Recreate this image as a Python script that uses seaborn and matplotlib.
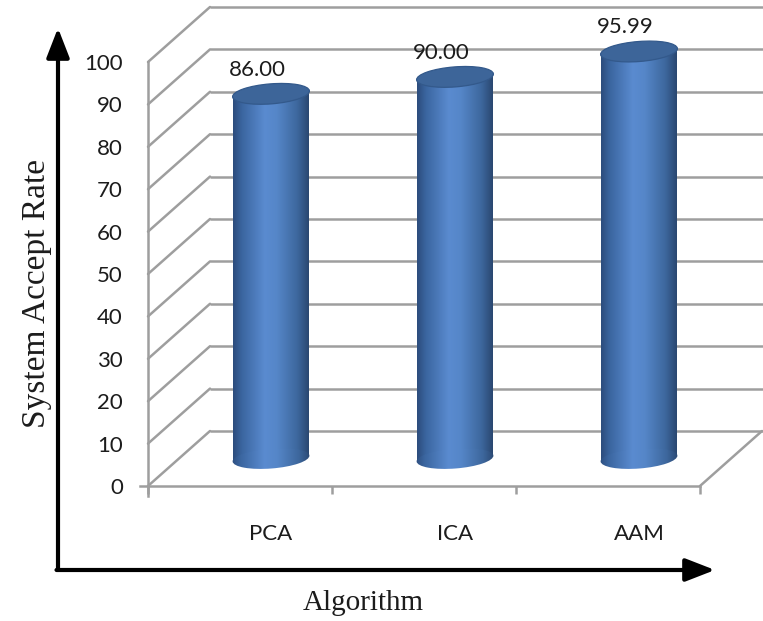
import numpy as np
import matplotlib
matplotlib.use("Agg")
import matplotlib.pyplot as plt
import matplotlib.transforms as mtransforms
from matplotlib.patches import Ellipse, Polygon
from matplotlib.colors import LinearSegmentedColormap
import seaborn as sns

# ---- data ----
algorithms = ["PCA", "ICA", "AAM"]
accept_rates = [86.00, 90.00, 95.99]
y_ticks = list(range(0, 101, 10))
x_title = "Algorithm"
y_title = "System Accept Rate"

# ---- layout (pixels) ----
W, H, DPI = 763, 621, 100
FRONT_LEFT_PX = 148          # x = -0.5 on the front plane
PX_PER_CAT = 184.0
FRONT_ZERO_PX = 486          # y = 0 on the front plane
PX_PER_UNIT = 4.24
DEPTH_X = 62 / PX_PER_CAT    # depth offset of the back wall, data units
DEPTH_Y = 55 / PX_PER_UNIT
HALF_DX, HALF_DY = DEPTH_X / 2, DEPTH_Y / 2
BAR_W = 76 / PX_PER_CAT
CAP_W_PX, CAP_H_PX, CAP_ANGLE = 77, 20, 4.5   # cylinder end ellipses
CAP_TILT = (CAP_W_PX / 2) * np.sin(np.radians(CAP_ANGLE)) / PX_PER_UNIT

GRID = "#9e9e9e"
TEXT = "#1c1c1c"

sns.set_theme(style="white")
plt.rcParams["font.family"] = ["Lato", "DejaVu Sans"]

fig = plt.figure(figsize=(W / DPI, H / DPI), dpi=DPI)
ax_left, ax_right, ax_top, ax_bottom = 120, W, 0, 500
ax = fig.add_axes([ax_left / W, (H - ax_bottom) / H,
                   (ax_right - ax_left) / W, (ax_bottom - ax_top) / H])

xlim = (-0.5 - (FRONT_LEFT_PX - ax_left) / PX_PER_CAT,
        -0.5 + (ax_right - FRONT_LEFT_PX) / PX_PER_CAT)
ylim = (-(ax_bottom - FRONT_ZERO_PX) / PX_PER_UNIT,
        (FRONT_ZERO_PX - ax_top) / PX_PER_UNIT)

# bars drawn by seaborn, then pushed back to mid-depth
sns.barplot(x=algorithms, y=accept_rates, color="#4f81bd", width=BAR_W,
            errorbar=None, saturation=1, ax=ax, zorder=2)

# walls: back-wall gridlines and left-wall diagonals
n_cat = len(algorithms)
x_front_l, x_front_r = -0.5, n_cat - 0.5
for t in y_ticks:
    ax.plot([x_front_l + DEPTH_X, xlim[1] + 0.2], [t + DEPTH_Y, t + DEPTH_Y],
            color=GRID, lw=1.8, zorder=0, clip_on=False, solid_capstyle="butt")
    ax.plot([x_front_l, x_front_l + DEPTH_X], [t, t + DEPTH_Y],
            color=GRID, lw=1.8, zorder=0, clip_on=False)
# floor right edge
ax.plot([x_front_r, x_front_r + DEPTH_X], [0, DEPTH_Y], color=GRID, lw=1.8,
        zorder=0, clip_on=False)

# cylinder shading
cyl = LinearSegmentedColormap.from_list(
    "cyl", [(0.0, "#2c4c7c"), (0.12, "#3b66a0"), (0.42, "#5a8bd0"),
            (0.58, "#5586c8"), (0.85, "#3d679d"), (1.0, "#2a4770")])
grad = np.linspace(0, 1, 256)[None, :]
shift = mtransforms.Affine2D().translate(HALF_DX, HALF_DY) + ax.transData


def cap(cx, cy, **kw):
    return Ellipse((0, 0), CAP_W_PX, CAP_H_PX, angle=CAP_ANGLE,
                   transform=mtransforms.ScaledTranslation(cx, cy, ax.transData),
                   **kw)


for p, val in zip(ax.patches, accept_rates):
    x, w, h = p.get_x(), p.get_width(), p.get_height()
    p.set_transform(shift)
    p.set_facecolor("none")
    p.set_edgecolor("none")
    xl, xr = x + HALF_DX, x + w + HALF_DX
    yb, yt = HALF_DY, h + HALF_DY
    cx = (xl + xr) / 2
    # slanted body outline following the tilted end caps
    outline = Polygon([(xl, yb - CAP_TILT), (xr, yb + CAP_TILT),
                       (xr, yt + CAP_TILT), (xl, yt - CAP_TILT)],
                      closed=True, facecolor="none", edgecolor="none")
    ax.add_patch(outline)
    body = ax.imshow(grad, cmap=cyl, aspect="auto", interpolation="bicubic",
                     extent=(xl, xr, yb - 4, yt + 4), zorder=2)
    body.set_clip_path(outline)
    base = cap(cx, yb, facecolor="none", edgecolor="none")
    ax.add_patch(base)
    bottom = ax.imshow(grad, cmap=cyl, aspect="auto", interpolation="bicubic",
                       extent=(xl - 0.01, xr + 0.01, yb - 4, yb + 4), zorder=2)
    bottom.set_clip_path(base)
    ax.add_patch(cap(cx, yt, facecolor="#3d6599", edgecolor="#33598b",
                     lw=0.9, zorder=4))
    ax.text(cx - 0.075, yt + 5.7, f"{val:.2f}", ha="center",
            va="center", fontsize=16, color=TEXT, zorder=5)

ax.set_xlim(*xlim)
ax.set_ylim(*ylim)

# front axes
for side in ("top", "right"):
    ax.spines[side].set_visible(False)
ax.spines["left"].set_position(("data", x_front_l))
ax.spines["left"].set_bounds(-2.4, 100)
ax.spines["bottom"].set_position(("data", 0))
ax.spines["bottom"].set_bounds(x_front_l - 0.045, x_front_r)
for side in ("left", "bottom"):
    ax.spines[side].set_color(GRID)
    ax.spines[side].set_linewidth(1.8)

ax.set_yticks(y_ticks)
ax.set_yticklabels([str(t) for t in y_ticks])
ax.tick_params(axis="y", direction="out", length=6, width=1.8, color=GRID,
               labelsize=16, labelcolor=TEXT, pad=12)
ax.set_xticks([i + HALF_DX for i in range(n_cat)])
ax.set_xticklabels(algorithms)
ax.set_xticks([i - 0.5 for i in range(n_cat + 1)], minor=True)
ax.tick_params(axis="x", which="major", length=0, labelsize=16,
               labelcolor=TEXT, pad=27)
ax.tick_params(axis="x", which="minor", direction="out", length=6, width=1.8,
               color=GRID, bottom=True)
ax.set_xlabel("")
ax.set_ylabel("")
ax.grid(False)

# outer arrows and titles
corner = (58, H - 570)
arrow_kw = dict(arrowstyle="-|>,head_length=0.9,head_width=0.35",
                mutation_scale=20, lw=3, color="black", shrinkA=0, shrinkB=0)
ax.annotate("", xy=(58, H - 28), xytext=corner, xycoords="figure pixels",
            textcoords="figure pixels", arrowprops=arrow_kw)
ax.annotate("", xy=(715, H - 570), xytext=(56.5, H - 570),
            xycoords="figure pixels", textcoords="figure pixels",
            arrowprops=arrow_kw)

serif = ["Liberation Serif", "DejaVu Serif"]
fig.text(37 / W, 1 - 294 / H, y_title, rotation=90, ha="center", va="center",
         fontsize=24, family=serif, color=TEXT)
fig.text(363 / W, 1 - 603 / H, x_title, ha="center", va="center",
         fontsize=21, family=serif, color=TEXT)

fig.savefig("out.png", dpi=DPI, facecolor="white")
